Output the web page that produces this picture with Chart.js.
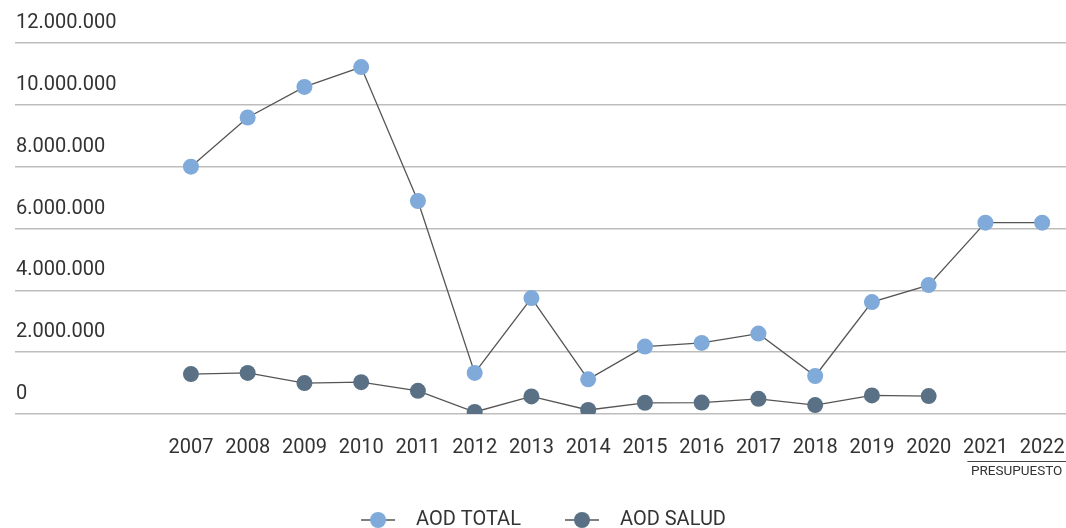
<!DOCTYPE html>
<html>
<head>
<meta charset="utf-8">
<script src="https://cdn.jsdelivr.net/npm/chart.js@4.4.1/dist/chart.umd.min.js"></script>
<style>
  html, body { margin: 0; padding: 0; background: #fff; }
  #wrap { width: 1066px; height: 528px; }
</style>
</head>
<body>
<div id="wrap"><canvas id="aodChart"></canvas></div>
<script>
// years and values (euros)
const years = [2007, 2008, 2009, 2010, 2011, 2012, 2013, 2014, 2015, 2016, 2017, 2018, 2019, 2020, 2021, 2022];
const aodTotal = [8000000, 9590000, 10580000, 11220000, 6890000, 1330000, 3750000, 1120000, 2180000, 2300000, 2600000, 1230000, 3620000, 4170000, 6190000, 6190000];
const aodSalud = [1290000, 1330000, 1000000, 1030000, 750000, 65000, 570000, 130000, 360000, 370000, 490000, 290000, 600000, 580000, null, null];
const budgetYears = [2021, 2022];
const budgetLabel = "PRESUPUESTO";

const colorTotal = "#7faad9";
const colorSalud = "#5a7185";

function toPoints(vals) {
  return years.map(function (y, i) { return { x: y, y: vals[i] }; });
}

function fmt(v) {
  return String(v).replace(/\B(?=(\d{3})+(?!\d))/g, ".");
}

// legend marker: short line with a dot, with some empty room around it
const MARK_LEAD = 34, MARK_W = 34, MARK_TRAIL = 11;
function legendMarker(color) {
  const c = document.createElement("canvas");
  c.width = MARK_LEAD + MARK_W + MARK_TRAIL; c.height = 18;
  const g = c.getContext("2d");
  g.strokeStyle = "#555";
  g.lineWidth = 1.3;
  g.beginPath(); g.moveTo(MARK_LEAD, 9); g.lineTo(MARK_LEAD + MARK_W, 9); g.stroke();
  g.fillStyle = color;
  g.beginPath(); g.arc(MARK_LEAD + MARK_W / 2, 9, 8, 0, Math.PI * 2); g.fill();
  return c;
}

const budgetPlugin = {
  id: "budget",
  afterDraw(chart) {
    const x = chart.scales.x;
    const ctx = chart.ctx;
    const x1 = x.getPixelForValue(budgetYears[0]) - 18;
    const x2 = chart.width;
    const y = x.top + 47;
    ctx.save();
    ctx.strokeStyle = "#444";
    ctx.lineWidth = 1;
    ctx.beginPath(); ctx.moveTo(x1, y + 0.5); ctx.lineTo(x2, y + 0.5); ctx.stroke();
    ctx.fillStyle = "#333";
    ctx.font = "13.5px Roboto";
    ctx.textAlign = "center";
    ctx.textBaseline = "middle";
    ctx.fillText(budgetLabel, (x1 + x2) / 2, y + 11);
    ctx.restore();
  }
};

const ctx = document.getElementById("aodChart").getContext("2d");
new Chart(ctx, {
  type: "line",
  data: {
    datasets: [
      {
        label: "AOD TOTAL",
        data: toPoints(aodTotal),
        borderColor: "#555",
        borderWidth: 1.3,
        pointBackgroundColor: colorTotal,
        pointBorderWidth: 0,
        pointRadius: 8,
        pointStyle: "circle",
      },
      {
        label: "AOD SALUD",
        data: toPoints(aodSalud),
        borderColor: "#555",
        borderWidth: 1.3,
        pointBackgroundColor: colorSalud,
        pointBorderWidth: 0,
        pointRadius: 8,
        pointStyle: "circle",
      },
    ],
  },
  options: {
    responsive: true,
    maintainAspectRatio: false,
    animation: false,
    layout: { autoPadding: false, padding: { left: -13, right: 0, top: 43, bottom: -12 } },
    scales: {
      x: {
        type: "linear",
        min: 2003.9,
        max: 2022.42,
        grid: { display: false, drawTicks: false },
        border: { display: false },
        afterBuildTicks: function (scale) {
          scale.ticks = years.map(function (v) { return { value: v }; });
        },
        afterFit: function (scale) {
          scale.height += 18;
          scale.paddingLeft = 0;
          scale.paddingRight = 0;
        },
        ticks: {
          autoSkip: false,
          maxRotation: 0,
          padding: 22,
          color: "#333",
          font: { family: "Roboto", size: 20 },
          callback: function (v) { return String(v); },
        },
      },
      y: {
        min: 0,
        max: 12000000,
        grid: { color: "#bdbdbd", lineWidth: 1.5, drawTicks: false },
        border: { display: false },
        afterFit: function (scale) {
          scale.width += 26;
        },
        ticks: {
          stepSize: 2000000,
          mirror: true,
          padding: 1,
          labelOffset: -20,
          color: "#333",
          font: { family: "Roboto", size: 20 },
          callback: function (v) { return fmt(v); },
        },
      },
    },
    plugins: {
      legend: {
        position: "bottom",
        labels: {
          usePointStyle: true,
          pointStyleWidth: MARK_LEAD + MARK_W + MARK_TRAIL,
          color: "#333",
          font: { family: "Roboto", size: 20 },
          padding: 10,
          generateLabels: function (chart) {
            return chart.data.datasets.map(function (ds, i) {
              return {
                text: ds.label,
                pointStyle: legendMarker(ds.pointBackgroundColor),
                fillStyle: ds.pointBackgroundColor,
                strokeStyle: ds.pointBackgroundColor,
                lineWidth: 0,
                hidden: !chart.isDatasetVisible(i),
                datasetIndex: i,
                fontColor: "#333",
              };
            });
          },
        },
      },
      tooltip: { enabled: false },
    },
  },
  plugins: [budgetPlugin],
});
</script>
</body>
</html>
